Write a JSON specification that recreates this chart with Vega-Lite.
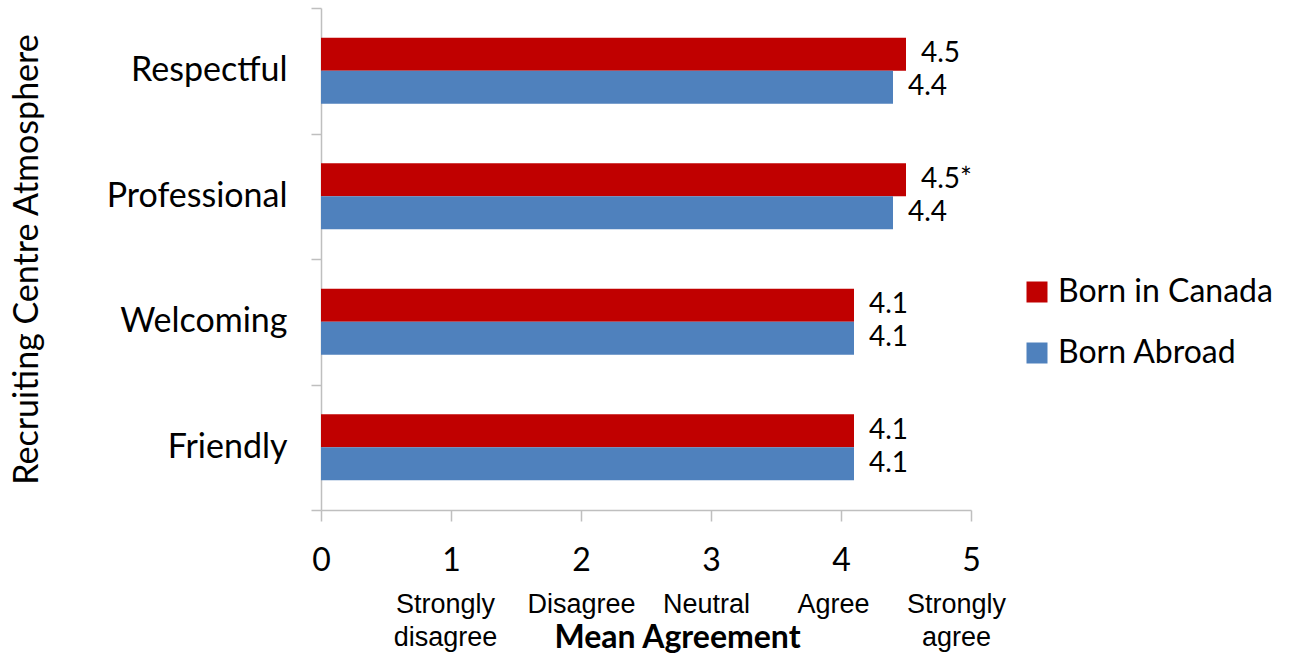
{
  "$schema": "https://vega.github.io/schema/vega-lite/v6.json",
  "width": 650,
  "height": 502,
  "autosize": {"type": "none"},
  "padding": {"left": 321, "top": 8, "right": 320, "bottom": 146},
  "background": "white",
  "config": {"view": {"stroke": null}, "font": "Lato"},
  "data": {
    "values": [
      {"attribute": "Respectful", "group": "Born in Canada", "value": 4.5, "label": "4.5"},
      {"attribute": "Respectful", "group": "Born Abroad", "value": 4.4, "label": "4.4"},
      {"attribute": "Professional", "group": "Born in Canada", "value": 4.5, "label": "4.5*"},
      {"attribute": "Professional", "group": "Born Abroad", "value": 4.4, "label": "4.4"},
      {"attribute": "Welcoming", "group": "Born in Canada", "value": 4.1, "label": "4.1"},
      {"attribute": "Welcoming", "group": "Born Abroad", "value": 4.1, "label": "4.1"},
      {"attribute": "Friendly", "group": "Born in Canada", "value": 4.1, "label": "4.1"},
      {"attribute": "Friendly", "group": "Born Abroad", "value": 4.1, "label": "4.1"}
    ]
  },
  "encoding": {
    "y": {
      "field": "attribute",
      "type": "nominal",
      "sort": ["Respectful", "Professional", "Welcoming", "Friendly"],
      "scale": {"paddingInner": 0, "paddingOuter": 0},
      "axis": {
        "title": "Recruiting Centre Atmosphere",
        "titleFont": "Lato",
        "titleFontSize": 34,
        "titleFontWeight": "normal",
        "titleColor": "black",
        "titleAngle": -90,
        "titleX": -284,
        "titleY": 251,
        "titleAlign": "center",
        "titleBaseline": "alphabetic",
        "tickBand": "extent",
        "tickSize": 10,
        "tickColor": "#BFBFBF",
        "tickWidth": 1.5,
        "domainColor": "#BFBFBF",
        "domainWidth": 1.5,
        "labelFont": "Lato",
        "labelFontSize": 34,
        "labelColor": "black",
        "labelPadding": 24,
        "labelBaseline": "middle",
        "labelLimit": 300,
        "grid": false
      }
    },
    "yOffset": {
      "field": "group",
      "type": "nominal",
      "sort": ["Born in Canada", "Born Abroad"],
      "scale": {"paddingInner": 0, "paddingOuter": 0.9}
    }
  },
  "layer": [
    {
      "mark": {"type": "bar"},
      "encoding": {
        "x": {
          "field": "value",
          "type": "quantitative",
          "scale": {"domain": [0, 5], "nice": false},
          "axis": {
            "orient": "bottom",
            "title": null,
            "values": [0, 1, 2, 3, 4, 5],
            "grid": false,
            "tickSize": 11,
            "tickColor": "#BFBFBF",
            "tickWidth": 1.5,
            "domainColor": "#BFBFBF",
            "domainWidth": 1.5,
            "labelFont": "Lato",
            "labelFontSize": 32,
            "labelColor": "black",
            "labelBaseline": "alphabetic",
            "labelPadding": 49,
            "labelFlush": false,
            "labelOverlap": false
          }
        },
        "color": {
          "field": "group",
          "type": "nominal",
          "scale": {"domain": ["Born in Canada", "Born Abroad"], "range": ["#C00000", "#4F81BD"]},
          "legend": {
            "title": null,
            "orient": "none",
            "legendX": 700,
            "legendY": 268,
            "padding": 0,
            "symbolType": "square",
            "symbolSize": 441,
            "symbolStrokeWidth": 0,
            "symbolOpacity": 1,
            "labelFont": "Lato",
            "labelFontSize": 32,
            "labelColor": "black",
            "labelOffset": 5,
            "rowPadding": 29,
            "labelLimit": 400
          }
        }
      }
    },
    {
      "mark": {"type": "text", "align": "left", "baseline": "middle", "dx": 15, "font": "Lato", "fontSize": 28, "color": "black"},
      "encoding": {
        "x": {
          "field": "value",
          "type": "quantitative",
          "axis": {
            "orient": "bottom",
            "values": [1, 2, 3, 4, 5],
            "domain": false,
            "ticks": false,
            "grid": false,
            "labelExpr": "datum.value == 1 ? ['Strongly', 'disagree'] : datum.value == 2 ? 'Disagree' : datum.value == 3 ? 'Neutral' : datum.value == 4 ? 'Agree' : ['Strongly', 'agree']",
            "labelFont": "Liberation Sans",
            "labelFontSize": 27,
            "labelLineHeight": 33,
            "labelColor": "black",
            "labelBaseline": "alphabetic",
            "labelPadding": 102,
            "labelOffset": {
              "condition": [
                {"test": "datum.value == 1", "value": -6},
                {"test": "datum.value == 3", "value": -5},
                {"test": "datum.value == 4", "value": -8},
                {"test": "datum.value == 5", "value": -15}
              ],
              "value": 0
            },
            "labelFlush": false,
            "labelOverlap": false,
            "title": "Mean Agreement",
            "titleFont": "Lato",
            "titleFontSize": 32,
            "titleFontWeight": "bold",
            "titleColor": "black",
            "titleX": 356,
            "titleY": 137,
            "titleAlign": "center",
            "titleBaseline": "alphabetic"
          }
        },
        "text": {"field": "label", "type": "nominal"}
      }
    }
  ],
  "resolve": {"axis": {"x": "independent"}}
}
